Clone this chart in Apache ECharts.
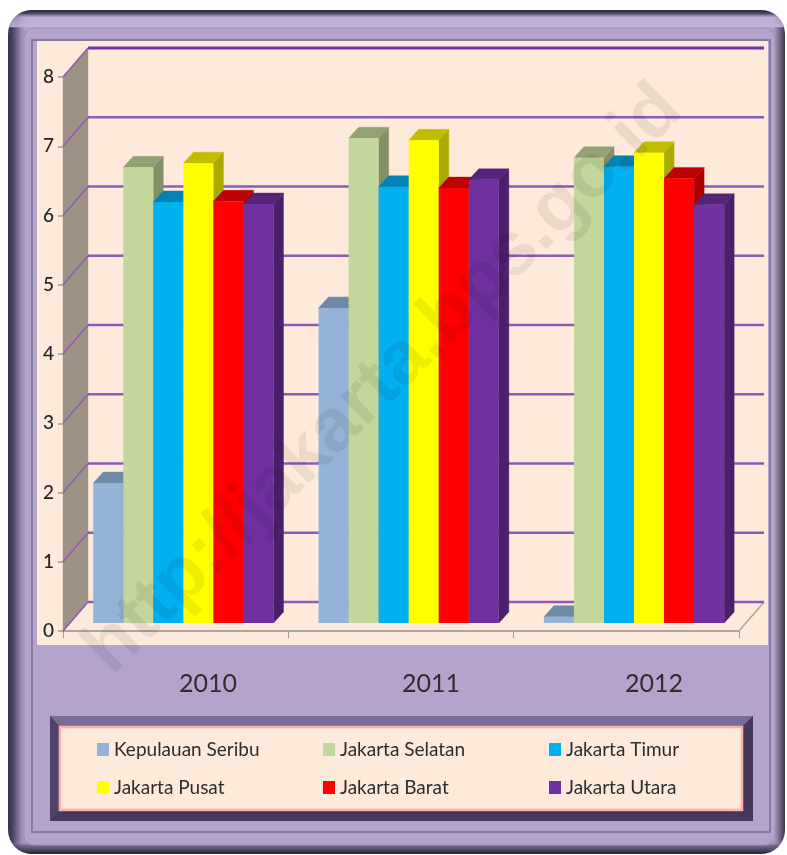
<!DOCTYPE html>
<html><head><meta charset="utf-8">
<style>html,body{margin:0;padding:0;background:#fff}#c{width:787px;height:855px;filter:blur(0.45px)}</style>
<script src="https://cdn.jsdelivr.net/npm/echarts@6/dist/echarts.min.js"></script>
</head><body><div id="c"></div>
<script>
const years = ['2010', '2011', '2012'];
const yTicks = [0, 1, 2, 3, 4, 5, 6, 7, 8];
const names = ['Kepulauan Seribu', 'Jakarta Selatan', 'Jakarta Timur', 'Jakarta Pusat', 'Jakarta Barat', 'Jakarta Utara'];
const kepulauanSeribu = [2.02, 4.55, 0.09];
const jakartaSelatan = [6.58, 7.0, 6.72];
const jakartaTimur = [6.08, 6.3, 6.59];
const jakartaPusat = [6.64, 6.97, 6.79];
const jakartaBarat = [6.09, 6.28, 6.42];
const jakartaUtara = [6.05, 6.4, 6.04];
const seriesValues = [kepulauanSeribu, jakartaSelatan, jakartaTimur, jakartaPusat, jakartaBarat, jakartaUtara];
const faceColors = ['#95b3d7', '#c3d69b', '#00b0f0', '#ffff00', '#ff0000', '#7030a0'];
const topColors = ['#7089a6', '#93a175', '#0084b4', '#bfbf00', '#bf0000', '#542478'];
const sideColors = ['#6b829d', '#828f67', '#0076a0', '#aaaa00', '#aa0000', '#4b206b'];
const FONT = 'Lato, "Noto Sans", sans-serif';

const chart = echarts.init(document.getElementById('c'), null, {renderer: 'canvas', width: 787, height: 855});

const WALL_DX = 25, WALL_DY = -29, BAR_DX = 7.7, BAR_DY = -8, BAR_DEPTH_X = 10, BAR_DEPTH_Y = -11;

function poly(points, fill) {
  return {type: 'polygon', shape: {points}, style: {fill, stroke: fill, lineWidth: 0.4}};
}
function renderWall(params, api) {
  const cs = params.coordSys;
  const v = api.value(0);
  const y = api.coord([years[0], v])[1];
  const x0 = cs.x, x1 = cs.x + cs.width;
  const isTop = v === yTicks[yTicks.length - 1];
  const col = '#9059b6';
  const line = (a, b, w, c) => ({type: 'line', shape: {x1: a[0], y1: a[1], x2: b[0], y2: b[1]}, style: {stroke: c || col, lineWidth: w}});
  const kids = [];
  if (v === 0) {
    const top = api.coord([years[0], 8])[1];
    kids.push(poly([[x0, y], [x0 + WALL_DX, y + WALL_DY], [x0 + WALL_DX, top + WALL_DY], [x0, top]], '#9e9284'));
    kids.push(line([x1, y], [x1 + WALL_DX, y + WALL_DY], 1.5, '#a9a99c'));
  }
  kids.push(line([x0 + WALL_DX, y + WALL_DY], [x1 + WALL_DX, y + WALL_DY], isTop ? 3 : 2.4, isTop ? '#7030a0' : col));
  kids.push(line([x0, y], [x0 + WALL_DX, y + WALL_DY], 1.5));
  return {type: 'group', children: kids};
}
function renderBar(params, api) {
  const idx = params.seriesIndex - 1;
  const p = api.coord([api.value(0), api.value(1)]);
  const base = api.coord([api.value(0), 0]);
  const bw = api.size([1, 0])[0] * 0.8 / names.length;
  const l = p[0] - 3 * bw + idx * bw + BAR_DX, r = l + bw;
  const t = p[1] + BAR_DY, b = base[1] + BAR_DY;
  const dx = BAR_DEPTH_X, dy = BAR_DEPTH_Y;
  return {type: 'group', children: [
    poly([[r, t], [r + dx, t + dy], [r + dx, b + dy], [r, b]], sideColors[idx]),
    poly([[l, t], [l + dx, t + dy], [r + dx, t + dy], [r, t]], topColors[idx]),
    {type: 'rect', shape: {x: l, y: t, width: bw, height: b - t}, style: {fill: faceColors[idx]}}
  ]};
}

const hGrad = (a) => ({type: 'linear', x: 0, y: 0, x2: 1, y2: 0, colorStops: a});
const vGrad = (a) => ({type: 'linear', x: 0, y: 0, x2: 0, y2: 1, colorStops: a});
const R = (x, y, w, h, fill, r, extra) => Object.assign({type: 'rect', z: -10, shape: {x, y, width: w, height: h, r: r || 0}, style: {fill}}, extra || {});
const P = (pts, fill) => ({type: 'polygon', z: -9, shape: {points: pts}, style: {fill}});

const frame = [
  R(8, 10, 777, 844, hGrad([
    {offset: 0, color: '#38324a'}, {offset: 0.006, color: '#4a4260'}, {offset: 0.012, color: '#75688c'},
    {offset: 0.018, color: '#a091b5'}, {offset: 0.024, color: '#b5a3cb'},
    {offset: 0.985, color: '#b5a3cb'}, {offset: 0.992, color: '#7d7090'}, {offset: 1, color: '#3a3348'}
  ]), 24),
  R(8, 10, 777, 844, vGrad([
    {offset: 0, color: 'rgba(40,34,52,1)'}, {offset: 0.004, color: 'rgba(60,52,78,0.85)'},
    {offset: 0.009, color: 'rgba(196,179,220,0.6)'}, {offset: 0.02, color: 'rgba(196,179,220,0.9)'},
    {offset: 0.021, color: 'rgba(181,163,203,0)'}, {offset: 0.985, color: 'rgba(181,163,203,0)'},
    {offset: 0.99, color: 'rgba(90,80,110,0.7)'}, {offset: 1, color: 'rgba(36,32,46,1)'}
  ]), 24),
  R(24, 28, 751, 817, '#b5a3cb', 10, {style: {fill: '#b5a3cb', stroke: '#a193b8', lineWidth: 1.2}}),
  R(32, 40, 738, 792, '#b5a3cb', 0, {style: {fill: '#b5a3cb', stroke: '#877a9a', lineWidth: 2}}),
  R(37, 41, 731, 604, '#fdeada'),
  // legend box
  R(50, 716, 703, 105, '#4a3c60', 0, {shadowBlur: 3}),
  P([[50, 716], [753, 716], [743, 726], [59, 726]], '#7a6d94'),
  P([[50, 716], [59, 726], [59, 811], [50, 821]], '#514369'),
  P([[753, 716], [743, 726], [743, 811], [753, 821]], '#463858'),
  P([[50, 821], [59, 811], [743, 811], [753, 821]], '#46375c'),
  {type: 'rect', z: -8, shape: {x: 60, y: 727, width: 682, height: 83}, style: {fill: '#fdeada', stroke: '#fbb0ae', lineWidth: 2.5}}
];

const legendCols = [[names[0], names[3]], [names[1], names[4]], [names[2], names[5]]];
const legendLeft = [97, 323, 549];

chart.setOption({
  animation: false,
  backgroundColor: '#ffffff',
  grid: [
    {left: 63, top: 77, width: 676, height: 554, containLabel: false},
    {left: 96.5, top: 640, width: 669, height: 10}
  ],
  xAxis: [
    {gridIndex: 0, type: 'category', data: years,
     axisLine: {lineStyle: {color: '#a9a99c', width: 2}},
     axisTick: {show: true, alignWithLabel: false, length: 7, lineStyle: {color: '#9c9c90', width: 1}},
     axisLabel: {show: false}, splitLine: {show: false}},
    {gridIndex: 1, type: 'category', data: years,
     axisLine: {show: false}, axisTick: {show: false},
     axisLabel: {margin: 21, color: '#40262c', fontFamily: FONT, fontSize: 25}}
  ],
  yAxis: [
    {gridIndex: 0, type: 'value', min: 0, max: 8, interval: 1,
     axisLine: {show: false},
     axisTick: {show: true, length: 5, lineStyle: {color: '#9c9c90', width: 1.5}},
     axisLabel: {margin: 9, color: '#20242c', fontFamily: FONT, fontSize: 19, fontWeight: 500},
     splitLine: {show: false}},
    {gridIndex: 1, type: 'value', show: false}
  ],
  legend: legendCols.map((d, i) => ({
    data: d, orient: 'vertical', left: legendLeft[i], top: 740, padding: 0, itemWidth: 12, itemHeight: 13, itemGap: 19, itemStyle: {borderWidth: 0},
    icon: 'rect', selectedMode: false,
    textStyle: {color: '#2d2d2d', fontFamily: FONT, fontSize: 19}
  })),
  graphic: [{elements: frame.concat([
    {type: 'text', z: 100, x: 384, y: 380, rotation: Math.PI * 44.5 / 180, silent: true,
     style: {text: 'http://jakarta.bps.go.id', x: 0, y: 0, align: 'center', verticalAlign: 'middle',
             fontFamily: '"Liberation Sans", Arial, sans-serif', fontWeight: 'bold', fontSize: 75, fill: 'rgba(0,0,0,0.07)'}}
  ])}],
  series: [
    {type: 'custom', name: 'wall', xAxisIndex: 0, yAxisIndex: 0, renderItem: renderWall, silent: true,
     data: yTicks.map(v => [v]), encode: {y: 0}, clip: false, z: 1}
  ].concat(names.map((n, i) => ({
    type: 'custom', name: n, xAxisIndex: 0, yAxisIndex: 0, renderItem: renderBar, clip: false, z: 2,
    itemStyle: {color: faceColors[i]},
    data: years.map((y, j) => [y, seriesValues[i][j]]),
    encode: {x: 0, y: 1}
  })))
});
</script></body></html>
